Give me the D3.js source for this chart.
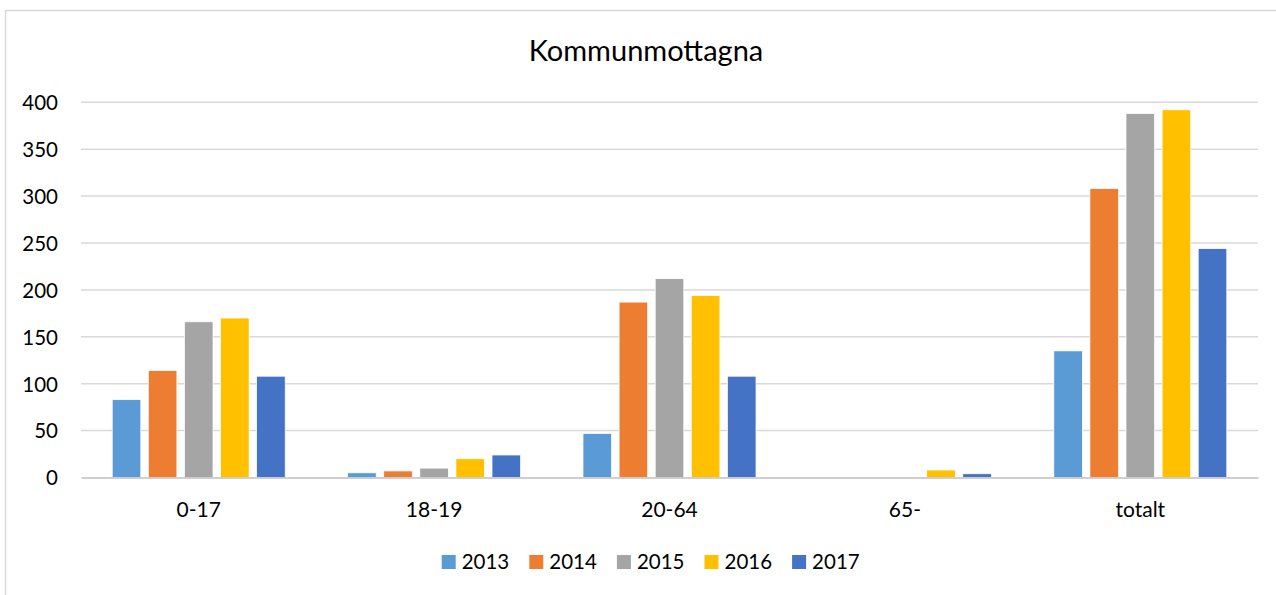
<!DOCTYPE html>
<html>
<head>
<meta charset="utf-8">
<script src="https://cdn.jsdelivr.net/npm/d3@7"></script>
<style>
html, body { margin: 0; padding: 0; background: #fff; }
svg { display: block; font-family: Lato, "Noto Sans", sans-serif; }
</style>
</head>
<body>
<svg id="chart" width="1276" height="595"></svg>
<script>
const title = "Kommunmottagna";
const categories = ["0-17", "18-19", "20-64", "65-", "totalt"];
const seriesNames = ["2013", "2014", "2015", "2016", "2017"];
const seriesColors = ["#5B9BD5", "#ED7D31", "#A5A5A5", "#FFC000", "#4472C4"];
const values2013 = [83, 5, 47, 0, 135];
const values2014 = [114, 7, 187, 0, 308];
const values2015 = [166, 10, 212, 0, 388];
const values2016 = [170, 20, 194, 8, 392];
const values2017 = [108, 24, 108, 4, 244];
const yTicks = [0, 50, 100, 150, 200, 250, 300, 350, 400];

const seriesValues = [values2013, values2014, values2015, values2016, values2017];

const svg = d3.select("#chart");
const W = 1276, H = 595;

// chart frame
svg.append("rect")
  .attr("x", 5.5).attr("y", 10.5)
  .attr("width", W + 10).attr("height", H + 10)
  .attr("fill", "#fff").attr("stroke", "#d9d9d9").attr("stroke-width", 1.5);

const plot = { left: 81, right: 1258, top: 102.3, bottom: 477.5 };

const x = d3.scaleBand().domain(categories).range([plot.left, plot.right]).paddingInner(0).paddingOuter(0);
const y = d3.scaleLinear().domain([0, 400]).range([plot.bottom, plot.top]);

const barW = 28.6;
const barStep = 36.1;
const xSeries = d3.scalePoint().domain(seriesNames).range([-2 * barStep, 2 * barStep]);

// gridlines
const grid = svg.append("g").attr("class", "grid");
grid.selectAll("line").data(yTicks.filter(d => d > 0)).join("line")
  .attr("x1", plot.left).attr("x2", plot.right)
  .attr("y1", d => y(d)).attr("y2", d => y(d))
  .attr("stroke", "#d9d9d9").attr("stroke-width", 1.5);

// y axis labels
const yAxis = d3.axisLeft(y).tickValues(yTicks).tickSize(0).tickPadding(0);
const yg = svg.append("g").attr("transform", `translate(${58},0)`).call(yAxis);
yg.select(".domain").remove();
yg.selectAll("text").attr("font-size", 20.5).attr("fill", "#000").attr("font-family", "Lato, sans-serif").attr("dy", "0.36em");

// bars
const groups = svg.append("g").selectAll("g").data(seriesNames).join("g")
  .attr("fill", (d, i) => seriesColors[i]);
groups.each(function(s, si) {
  d3.select(this).selectAll("rect").data(categories.map((c, ci) => ({ c, v: seriesValues[si][ci] })))
    .join("rect")
    .filter(d => d.v > 0)
    .attr("x", d => x(d.c) + x.bandwidth() / 2 + xSeries(s) - barW / 2)
    .attr("width", barW)
    .attr("y", d => y(d.v))
    .attr("height", d => y(0) - y(d.v))
    .attr("stroke", "#fff").attr("stroke-width", 0.75);
});

// x axis
const xAxis = d3.axisBottom(x).tickSize(0).tickPadding(0);
const xg = svg.append("g").attr("transform", `translate(0,${plot.bottom})`).call(xAxis);
xg.select(".domain").attr("stroke", "#bfbfbf").attr("stroke-width", 1.5);
xg.selectAll("text").attr("font-size", 21).attr("fill", "#000").attr("font-family", "Lato, sans-serif")
  .attr("dy", "0").attr("y", 39);

// title
svg.append("text").attr("x", 646).attr("y", 61).attr("text-anchor", "middle")
  .attr("font-size", 29).attr("fill", "#000").text(title);

// legend
const legStart = 441.7, legStep = 87.6;
const leg = svg.append("g").selectAll("g").data(seriesNames).join("g")
  .attr("transform", (d, i) => `translate(${legStart + i * legStep},555)`);
leg.append("rect").attr("width", 14).attr("height", 14).attr("fill", (d, i) => seriesColors[i]);
leg.append("text").attr("x", 20).attr("y", 14).attr("font-size", 20.5).attr("fill", "#000").text(d => d);
</script>
</body>
</html>
